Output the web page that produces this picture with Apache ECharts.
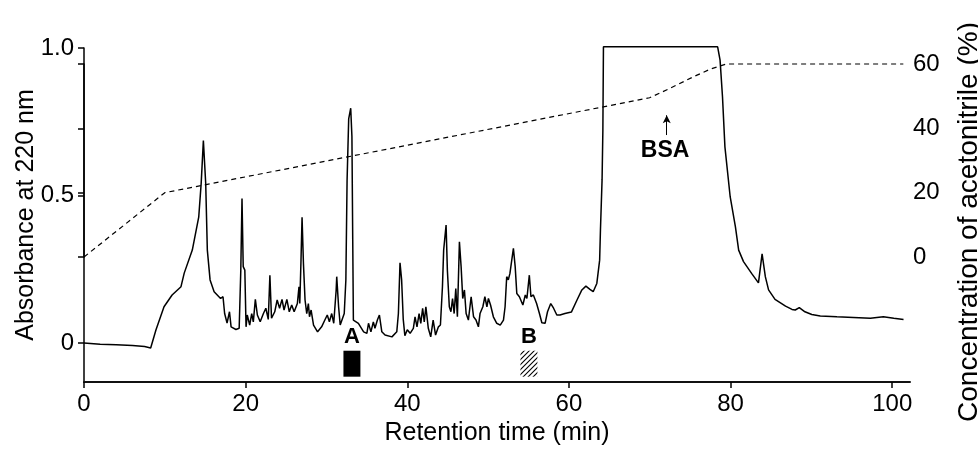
<!DOCTYPE html>
<html>
<head>
<meta charset="utf-8">
<script src="https://cdn.jsdelivr.net/npm/echarts@6/dist/echarts.min.js"></script>
<style>
  html, body { margin: 0; padding: 0; background: #fff; }
  #main { width: 978px; height: 454px; }
</style>
</head>
<body>
<div id="main"></div>
<script>
// chromatogram (absorbance at 220 nm)
var absTime = [0, 2, 4, 6, 7.5, 8.25, 8.9, 9.9, 10.9, 12.0, 12.4, 13.4, 14.2, 14.5, 14.77, 15.06, 15.26, 15.6, 16.1, 16.9,
  17.2, 17.4, 17.7, 18.0, 18.2, 18.8, 19.2, 19.4, 19.55, 19.7, 19.9, 20.05, 20.2, 20.5, 20.75, 20.95, 21.2, 21.45, 21.8, 22.2,
  22.5, 22.8, 23.0, 23.2, 23.6, 23.9, 24.2, 24.5, 24.75, 25.1, 25.4, 25.7, 26.0, 26.4, 26.6, 26.7, 26.85, 26.98, 27.15, 27.35,
  27.56, 27.76, 27.9, 28.1, 28.4, 28.9, 29.4, 29.8, 30.1, 30.36, 30.65, 30.9, 31.2, 31.27, 31.5, 31.7, 31.9, 32.2, 32.4, 32.55,
  32.75, 33.0, 33.15, 33.25, 33.33, 33.95, 34.6, 35.0, 35.2, 35.5, 35.8, 36.0, 36.3, 36.55, 36.85, 37.25, 38.1, 38.7, 38.9, 39.1,
  39.3, 39.5, 39.7, 40.0, 40.35, 40.75, 40.96, 41.2, 41.46, 41.67, 41.9, 42.1, 42.3, 42.6, 42.9, 43.2, 43.5, 43.85, 44.1, 44.35,
  44.5, 44.6, 44.8, 44.96, 45.2, 45.4, 45.6, 45.8, 46.0, 46.2, 46.45, 46.66, 46.86, 47.07, 47.28, 47.56, 47.9, 48.2, 48.5, 48.8,
  49.0, 49.35, 49.6, 49.85, 50.04, 50.3, 50.65, 51.07, 51.5, 51.9, 52.1, 52.3, 52.5, 52.7, 52.9, 53.13, 53.35, 53.55, 53.87, 54.3,
  54.6, 54.8, 55.1, 55.3, 55.6, 56.0, 56.35, 56.65, 57.05, 57.35, 57.75, 58.1, 58.5, 58.9, 59.5, 60.3, 61.0, 61.6, 62.1, 62.6,
  63.0, 63.45, 63.8, 63.9, 64.1, 64.2, 64.27, 78.4, 78.7, 79.0, 79.3, 79.95, 80.6, 81.0, 81.6, 82.6, 83.45, 83.9, 84.3, 84.7,
  85.5, 86.8, 87.6, 88.0, 88.5, 89.2, 90.05, 91.1, 93.15, 95.2, 97.3, 98.9, 100.2, 101.4];
var absValue = [0, -0.004, -0.006, -0.008, -0.012, -0.017, 0.044, 0.123, 0.163, 0.191, 0.237, 0.315, 0.428, 0.542, 0.686, 0.54, 0.315, 0.214, 0.174, 0.151,
  0.157, 0.10, 0.068, 0.106, 0.055, 0.046, 0.05, 0.247, 0.49, 0.259, 0.247, 0.055, 0.095, 0.061, 0.10, 0.072, 0.148, 0.095, 0.072, 0.10,
  0.118, 0.08, 0.23, 0.084, 0.106, 0.146, 0.118, 0.148, 0.112, 0.148, 0.106, 0.129, 0.106, 0.134, 0.191, 0.134, 0.281, 0.426, 0.27, 0.146,
  0.10, 0.134, 0.089, 0.112, 0.061, 0.038, 0.055, 0.078, 0.095, 0.072, 0.10, 0.067, 0.18, 0.225, 0.123, 0.061, 0.067, 0.10, 0.214, 0.55,
  0.76, 0.796, 0.70, 0.35, 0.078, 0.067, 0.038, 0.033, 0.067, 0.038, 0.072, 0.05, 0.078, 0.095, 0.038, 0.027, 0.021, 0.038, 0.10, 0.272,
  0.214, 0.08, 0.025, 0.045, 0.033, 0.05, 0.089, 0.055, 0.10, 0.067, 0.118, 0.072, 0.123, 0.05, 0.021, 0.078, 0.027, 0.055, 0.061, 0.191,
  0.315, 0.31, 0.40, 0.247, 0.123, 0.106, 0.151, 0.10, 0.185, 0.089, 0.343, 0.259, 0.151, 0.18, 0.10, 0.078, 0.157, 0.089, 0.078, 0.055,
  0.10, 0.123, 0.157, 0.123, 0.151, 0.129, 0.089, 0.067, 0.061, 0.078, 0.123, 0.225, 0.214, 0.236, 0.276, 0.321, 0.259, 0.168, 0.157, 0.129,
  0.163, 0.151, 0.23, 0.157, 0.163, 0.134, 0.10, 0.069, 0.067, 0.106, 0.134, 0.118, 0.095, 0.095, 0.10, 0.105, 0.146, 0.18, 0.193, 0.182,
  0.174, 0.202, 0.281, 0.383, 0.553, 0.722, 1.004, 1.004, 0.959, 0.835, 0.665, 0.496, 0.394, 0.315, 0.276, 0.236, 0.204, 0.302, 0.225, 0.18,
  0.148, 0.125, 0.114, 0.112, 0.12, 0.106, 0.097, 0.092, 0.089, 0.087, 0.084, 0.089, 0.084, 0.08];

// acetonitrile gradient (%)
var gradTime = [0, 10, 70, 72.5, 75.4, 77.5, 79.5, 101.4];
var gradConc = [0, 20, 49.5, 52.4, 56, 58.4, 60, 60];

// tick labels
var timeTicks = [0, 20, 40, 60, 80, 100];
var absTicks = [0, 0.5, 1.0];
var absTickLabels = ['0', '0.5', '1.0'];
var concTicks = [0, 20, 40, 60];

// collected fractions
var fractions = [
  { name: 'A', from: 32.1, to: 34.2, fill: 'solid' },
  { name: 'B', from: 54.0, to: 56.1, fill: 'hatch' }
];
var bsaTime = 72.1;

function zip(a, b) {
  var out = [];
  for (var i = 0; i < a.length; i++) out.push([a[i], b[i]]);
  return out;
}

// diagonal hatch for fraction B
var hatch = document.createElement('canvas');
hatch.width = 5; hatch.height = 5;
var hc = hatch.getContext('2d');
hc.strokeStyle = '#000';
hc.lineWidth = 1.1;
hc.beginPath();
hc.moveTo(-1, 6); hc.lineTo(6, -1);
hc.moveTo(-1, 1); hc.lineTo(1, -1);
hc.moveTo(4, 6); hc.lineTo(6, 4);
hc.stroke();

var FONT = 'Liberation Sans, Arial, sans-serif';

var areaData = fractions.map(function (f) {
  return [
    { name: f.name, coord: [f.from, -0.026],
      itemStyle: { color: f.fill === 'solid' ? '#000' : { image: hatch, repeat: 'repeat' } } },
    { coord: [f.to, -0.114] }
  ];
});

var myChart = echarts.init(document.getElementById('main'));
var option = {
  animation: false,
  backgroundColor: '#fff',
  textStyle: { fontFamily: FONT, color: '#000' },
  grid: [
    { left: 84, right: 68, top: 48, bottom: 72 },
    { left: 84, right: 75, top: 64, bottom: 197 }
  ],
  xAxis: [{
    gridIndex: 0,
    type: 'value',
    min: 0,
    max: 102.2,
    name: 'Retention time (min)',
    nameLocation: 'middle',
    nameGap: 36,
    nameTextStyle: { fontSize: 25, color: '#000', fontFamily: FONT },
    axisLine: { onZero: false, lineStyle: { color: '#111', width: 2 } },
    axisTick: { length: 6, lineStyle: { color: '#000', width: 1.5 }, customValues: timeTicks },
    axisLabel: { customValues: timeTicks, fontSize: 24, color: '#000', margin: 10, fontFamily: FONT },
    splitLine: { show: false }
  }, {
    gridIndex: 1,
    type: 'value',
    min: 0,
    max: 101.36,
    show: false
  }],
  yAxis: [{
    gridIndex: 0,
    type: 'value',
    min: -0.132,
    max: 1.0,
    axisLine: { show: true, lineStyle: { color: '#000', width: 1.5 } },
    axisTick: { show: true, length: 6, lineStyle: { color: '#000', width: 1.5 }, customValues: absTicks },
    axisLabel: {
      customValues: absTicks, fontSize: 24, color: '#000', margin: 10, fontFamily: FONT,
      formatter: function (v) { return absTickLabels[absTicks.indexOf(v)]; }
    },
    splitLine: { show: false }
  }, {
    gridIndex: 1,
    type: 'value',
    position: 'right',
    min: 0,
    max: 60,
    axisLine: { show: true, lineStyle: { color: '#000', width: 1.5 } },
    axisTick: { show: true, inside: true, length: 6, lineStyle: { color: '#000', width: 1.5 }, customValues: concTicks },
    axisLabel: { customValues: concTicks, fontSize: 24, color: '#000', margin: 10, fontFamily: FONT },
    splitLine: { show: false }
  }],
  graphic: [{
    type: 'text',
    x: 26, y: 215,
    rotation: Math.PI / 2,
    style: { text: 'Absorbance at 220 nm', font: '25px ' + FONT, fill: '#000', align: 'center', verticalAlign: 'middle' }
  }, {
    type: 'text',
    x: 969, y: 222,
    rotation: Math.PI / 2,
    style: { text: 'Concentration of acetonitrile (%)', font: '28px ' + FONT, fill: '#000', align: 'center', verticalAlign: 'middle' }
  }],
  series: [{
    name: 'Absorbance',
    type: 'line',
    xAxisIndex: 0,
    yAxisIndex: 0,
    data: zip(absTime, absValue),
    showSymbol: false,
    clip: false,
    lineStyle: { color: '#000', width: 1.5 },
    markArea: {
      silent: true,
      label: { show: true, position: 'top', distance: 3, fontSize: 22, fontWeight: 'bold', color: '#000', fontFamily: FONT },
      data: areaData
    },
    markLine: {
      silent: true,
      symbol: ['none', 'arrow'],
      symbolSize: [6, 8],
      label: { show: false },
      lineStyle: { color: '#000', width: 1, type: 'solid' },
      data: [[{ coord: [bsaTime, 0.705] }, { coord: [bsaTime, 0.772] }]]
    },
    markPoint: {
      silent: true,
      symbol: 'circle',
      symbolSize: 0,
      label: { show: true, formatter: 'BSA', fontSize: 23, fontWeight: 'bold', color: '#000', fontFamily: FONT },
      data: [{ coord: [bsaTime - 0.2, 0.653] }]
    }
  }, {
    name: 'Acetonitrile',
    type: 'line',
    xAxisIndex: 1,
    yAxisIndex: 1,
    data: zip(gradTime, gradConc),
    showSymbol: false,
    clip: false,
    lineStyle: { color: '#000', width: 1.2, type: [5, 4] }
  }]
};
myChart.setOption(option);
window.onresize = function () { myChart.resize(); };
</script>
</body>
</html>
